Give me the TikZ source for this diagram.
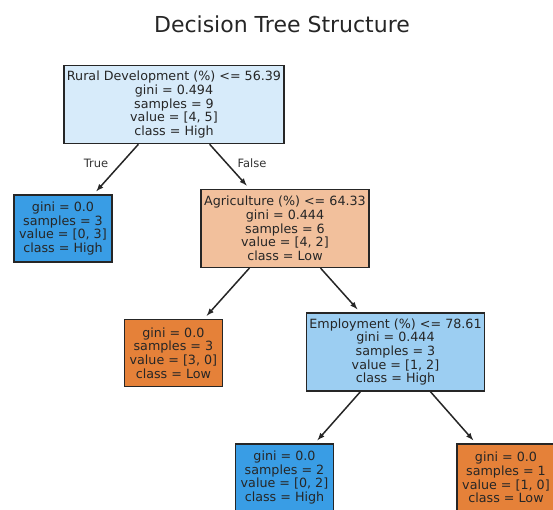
\documentclass[tikz,border=0pt]{standalone}
\usepackage{fontspec}
\setmainfont{DejaVu Sans}
\definecolor{highfull}{HTML}{399DE5}
\definecolor{highpale}{HTML}{D7EBFA}
\definecolor{highmid}{HTML}{9CCEF2}
\definecolor{lowfull}{HTML}{E58139}
\definecolor{lowmid}{HTML}{F2C09C}

\begin{document}
\begin{tikzpicture}[x=1pt,y=-1pt,>=latex,
    box/.style={draw=black!85,line width=1.5pt,align=center,inner xsep=3pt,
      font=\fontsize{12.7}{13.7}\selectfont,text=black!85},
    split/.style={box,minimum height=78pt},
    leaf/.style={box,minimum height=67pt,minimum width=98pt},
    edge/.style={->,line width=1.5pt,draw=black!85,shorten >=4pt},
    lbl/.style={font=\fontsize{11.5}{13}\selectfont,text=black!80}]
    \useasboundingbox (0,0) rectangle (553,509);
    \clip (0,0) rectangle (553,509);
    \node[font=\fontsize{22}{26}\selectfont,text=black!85] (title) at (282,24)
      {Decision Tree Structure};
    % split nodes
    \node[split,fill=highpale] (root) at (174,104.5)
      {Rural Development (\%) <= 56.39\\gini = 0.494\\samples = 9\\value = [4, 5]\\class = High};
    \node[split,fill=lowmid] (agri) at (285,228.3)
      {Agriculture (\%) <= 64.33\\gini = 0.444\\samples = 6\\value = [4, 2]\\class = Low};
    \node[split,fill=highmid] (empl) at (395.5,352)
      {Employment (\%) <= 78.61\\gini = 0.444\\samples = 3\\value = [1, 2]\\class = High};
    % leaves
    \node[leaf,fill=highfull] (leafa) at (63,228.5)
      {gini = 0.0\\samples = 3\\value = [0, 3]\\class = High};
    \node[leaf,fill=lowfull] (leafb) at (173.4,353)
      {gini = 0.0\\samples = 3\\value = [3, 0]\\class = Low};
    \node[leaf,fill=highfull] (leafc) at (284.5,477.5)
      {gini = 0.0\\samples = 2\\value = [0, 2]\\class = High};
    \node[leaf,fill=lowfull] (leafd) at (506,477.5)
      {gini = 0.0\\samples = 1\\value = [1, 0]\\class = Low};
    \draw[edge] (root) -- (leafa);
    \draw[edge] (root) -- (agri);
    \draw[edge] (agri) -- (leafb);
    \draw[edge] (agri) -- (empl);
    \draw[edge] (empl) -- (leafc);
    \draw[edge] (empl) -- (leafd);
    \node[lbl] (true) at (96,163) {True};
    \node[lbl] (false) at (252,163) {False};
\end{tikzpicture}
\end{document}
